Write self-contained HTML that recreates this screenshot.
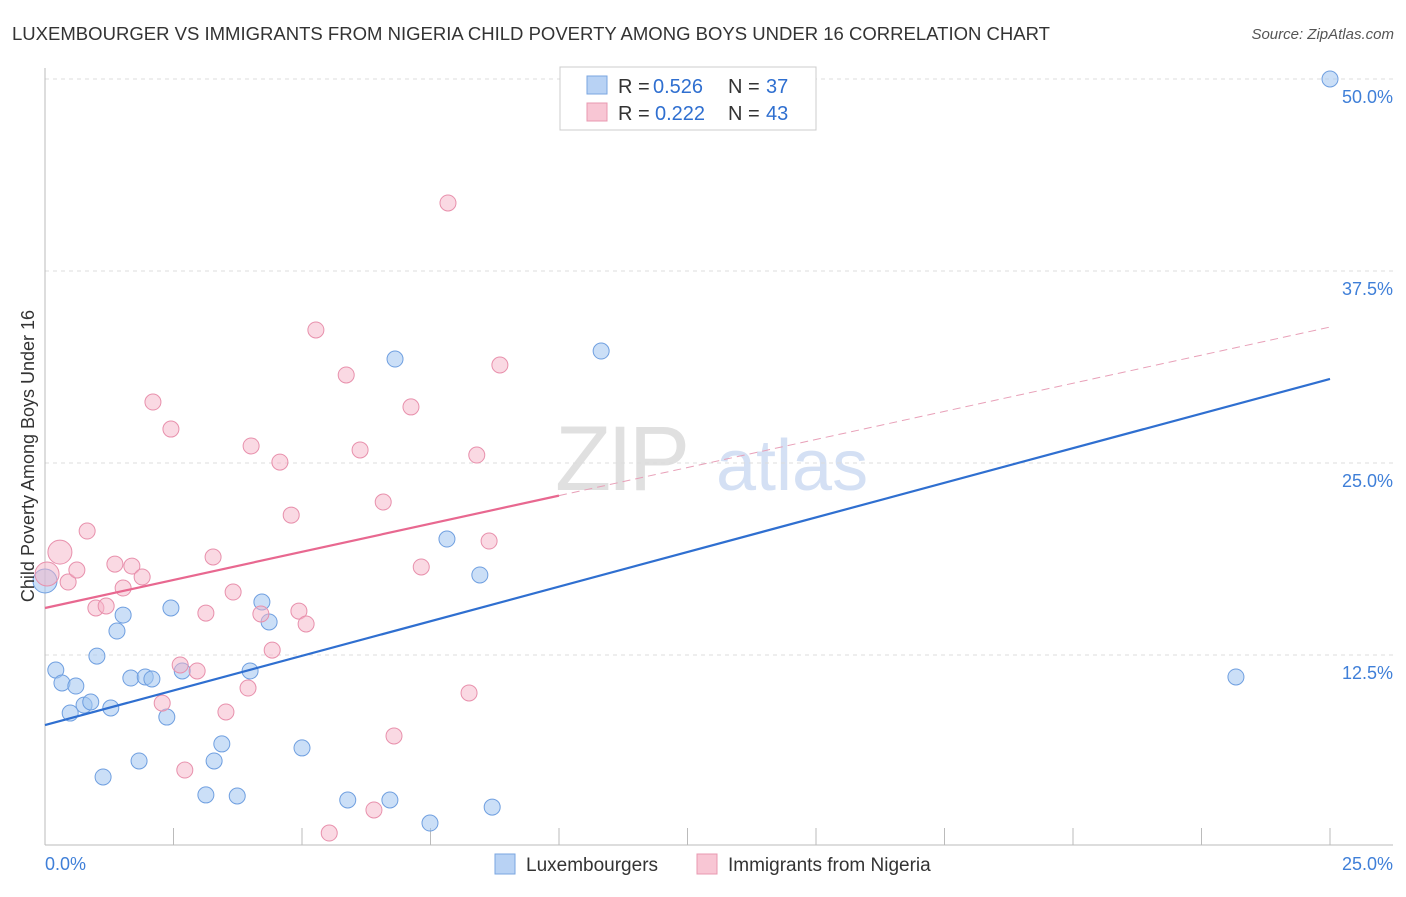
<!DOCTYPE html>
<html><head><meta charset="utf-8"><style>
body{margin:0;background:#fff;font-family:"Liberation Sans",sans-serif}
svg text{font-family:"Liberation Sans",sans-serif}
</style></head><body>
<svg id="c" width="1406" height="892" xmlns="http://www.w3.org/2000/svg">
<text x="12" y="40" font-size="18" fill="#333" textLength="1038" lengthAdjust="spacingAndGlyphs">LUXEMBOURGER VS IMMIGRANTS FROM NIGERIA CHILD POVERTY AMONG BOYS UNDER 16 CORRELATION CHART</text>
<text x="1394" y="39" font-size="15" fill="#555" text-anchor="end" font-style="italic">Source: ZipAtlas.com</text>
<text x="555" y="490" font-size="92" fill="#e0e0e0" font-family="Liberation Serif" letter-spacing="-4">ZIP</text>
<text x="716" y="490" font-size="72" fill="#d4e0f4">atlas</text>
<g id="grid"></g>
<g id="marks"></g>
<text transform="translate(34,456) rotate(-90)" font-size="18" fill="#333" text-anchor="middle">Child Poverty Among Boys Under 16</text>
<g>
<rect x="560" y="67" width="256" height="63" fill="#fff" stroke="#ccc"/>
<rect x="587" y="76" width="20" height="18" fill="#b8d2f4" stroke="#7aa6e0"/>
<rect x="587" y="103" width="20" height="18" fill="#f8c6d4" stroke="#e898b0"/>
<text x="618" y="93" font-size="20" fill="#333">R =</text><text x="653" y="93" font-size="20" fill="#2f6fd0">0.526</text>
<text x="728" y="93" font-size="20" fill="#333">N =</text><text x="766" y="93" font-size="20" fill="#2f6fd0">37</text>
<text x="618" y="120" font-size="20" fill="#333">R =</text><text x="655" y="120" font-size="20" fill="#2f6fd0">0.222</text>
<text x="728" y="120" font-size="20" fill="#333">N =</text><text x="766" y="120" font-size="20" fill="#2f6fd0">43</text>
</g>
<g>
<rect x="495" y="854" width="20" height="20" fill="#b8d2f4" stroke="#7aa6e0"/>
<text x="526" y="871" font-size="19" fill="#333">Luxembourgers</text>
<rect x="697" y="854" width="20" height="20" fill="#f8c6d4" stroke="#e898b0"/>
<text x="728" y="871" font-size="19" fill="#333">Immigrants from Nigeria</text>
</g>
</svg>
<script>
const luxX=[0,0.21,0.33,0.49,0.60,0.76,0.89,1.01,1.13,1.28,1.40,1.52,1.67,1.83,1.95,2.08,2.37,2.45,2.67,3.13,3.29,3.44,3.74,3.99,4.22,4.36,5.00,5.89,6.71,6.81,7.49,7.82,8.46,8.70,10.82,23.17,25.0];
const luxY=[17.32,11.52,10.68,8.72,10.48,9.24,9.44,12.43,4.56,9.05,14.06,15.10,11.00,5.60,11.07,10.94,8.46,15.56,11.46,3.39,5.60,6.71,3.32,11.46,15.95,14.65,6.45,3.06,3.06,31.77,1.56,20.05,17.71,2.60,32.29,11.07,50.0];
const nigX=[0.04,0.29,0.45,0.62,0.82,0.99,1.19,1.36,1.52,1.69,1.89,2.10,2.28,2.45,2.63,2.72,2.96,3.13,3.27,3.52,3.66,3.95,4.01,4.20,4.42,4.57,4.79,4.94,5.08,5.27,5.53,5.86,6.13,6.40,6.58,6.79,7.12,7.32,7.84,8.25,8.40,8.64,8.85];
const nigY=[17.77,19.2,17.25,18.03,20.57,15.56,15.69,18.42,16.86,18.29,17.58,28.97,9.37,27.21,11.85,5.01,11.46,15.23,18.88,8.79,16.60,10.35,26.11,15.17,12.82,25.06,21.61,15.36,14.52,33.66,0.91,30.73,25.85,2.41,22.46,7.23,28.65,18.23,41.93,10.03,25.52,19.92,31.38];
const yTicks=[12.5,25,37.5,50];
const yTickLabels=["12.5%","25.0%","37.5%","50.0%"];
const xTicks=[0,2.5,5,7.5,10,12.5,15,17.5,20,22.5,25];
const luxTrend=[7.94,30.47];
const nigTrend=[15.56,33.85];
const nigSolidEnd=10;
const sx=v=>45+v/25*1285, sy=v=>847-v/12.5*192;
const NS="http://www.w3.org/2000/svg";
function mk(t,a,p){const e=document.createElementNS(NS,t);for(const k in a)e.setAttribute(k,a[k]);p.appendChild(e);return e;}
const g=document.getElementById('grid'),m=document.getElementById('marks');
yTicks.forEach((v,i)=>{const l=mk('line',{x1:45,x2:1393,y1:sy(v),y2:sy(v),stroke:'#ddd','stroke-dasharray':'4,4'},g);


const t=mk('text',{x:1393,y:sy(v)+24,'font-size':18,fill:'#3f7fd8','text-anchor':'end'},g);t.textContent=yTickLabels[i];

});
const ax=mk('line',{x1:45,x2:1393,y1:845,y2:845,stroke:'#bbb'},g);


const ay=mk('line',{x1:45,x2:45,y1:68,y2:845,stroke:'#bbb'},g);


xTicks.forEach(v=>{const l=mk('line',{x1:sx(v),x2:sx(v),y1:828,y2:845,stroke:'#bbb'},g);

});
const x0=mk('text',{x:45,y:870,'font-size':18,fill:'#3f7fd8'},g);x0.textContent='0.0%';


const x1=mk('text',{x:1393,y:870,'font-size':18,fill:'#3f7fd8','text-anchor':'end'},g);x1.textContent='25.0%';


luxX.forEach((v,i)=>{const c=mk('circle',{cx:sx(v),cy:sy(luxY[i]),r:i==0?12:8,fill:'rgba(160,196,240,0.55)',stroke:'#6f9fe0','stroke-width':1},m);

});
nigX.forEach((v,i)=>{const c=mk('circle',{cx:sx(v),cy:sy(nigY[i]),r:i<2?12:8,fill:'rgba(246,180,200,0.5)',stroke:'#e890ac','stroke-width':1},m);

});
const bl=mk('line',{x1:sx(0),y1:sy(luxTrend[0]),x2:sx(25),y2:sy(luxTrend[1]),stroke:'#2f6fd0','stroke-width':2.2},m);


const ny=v=>nigTrend[0]+(nigTrend[1]-nigTrend[0])*v/25;
const pl=mk('line',{x1:sx(0),y1:sy(ny(0)),x2:sx(nigSolidEnd),y2:sy(ny(nigSolidEnd)),stroke:'#e86890','stroke-width':2.2},m);


const pd=mk('line',{x1:sx(nigSolidEnd),y1:sy(ny(nigSolidEnd)),x2:sx(25),y2:sy(ny(25)),stroke:'#e8a0b8','stroke-width':1,'stroke-dasharray':'8,5'},m);


</script>
</body></html>
